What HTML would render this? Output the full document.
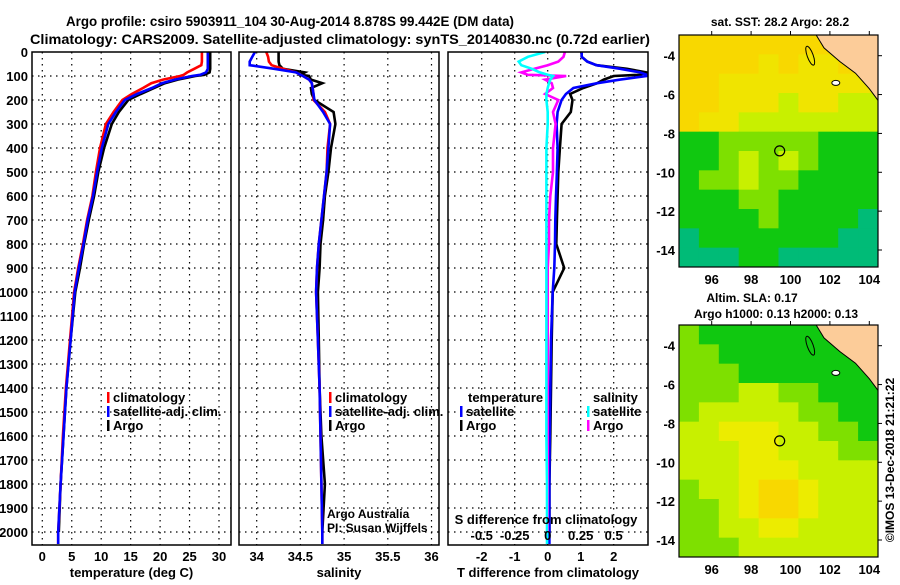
<!DOCTYPE html>
<html><head><meta charset="utf-8"><style>
body{margin:0;background:#fff;}
svg text{font-family:"Liberation Sans",Arial,sans-serif;font-weight:bold;fill:#000;}
</style></head><body>
<svg id="chart" width="900" height="580" viewBox="0 0 900 580" xmlns="http://www.w3.org/2000/svg">
<text x="290" y="26" font-size="14" text-anchor="middle" textLength="448" lengthAdjust="spacingAndGlyphs">Argo profile: csiro 5903911_104 30-Aug-2014 8.878S 99.442E (DM data)</text>
<text x="340" y="44" font-size="14" text-anchor="middle" textLength="620" lengthAdjust="spacingAndGlyphs">Climatology: CARS2009. Satellite-adjusted climatology: synTS_20140830.nc (0.72d earlier)</text>
<g id="plots"></g>
</svg>
<script>
const depths=[0,20,40,55,70,85,95,100,115,130,150,175,200,250,300,400,500,600,700,800,900,1000,1200,1400,1600,1800,2000,2050];
const tempClim=[27.1,27.1,27.1,27.0,25.8,24.6,24.0,23.4,20.5,18.5,17.1,15.2,13.6,12.1,10.8,9.8,9.1,8.5,7.6,6.9,6.1,5.4,4.7,4.0,3.5,3.1,2.7,2.7];
const tempSat=[28.1,28.1,28.1,28.1,28.1,27.8,26.8,25.4,22.5,20.3,18.6,16.1,14.0,12.5,11.2,10.1,9.3,8.6,7.7,7.0,6.2,5.5,4.8,4.1,3.6,3.1,2.7,2.7];
const tempArgo=[28.5,28.5,28.5,28.5,28.5,28.4,27.5,26.0,23.0,20.8,19.0,16.7,14.6,13.0,11.8,10.5,9.5,8.8,7.9,7.1,6.4,5.6,4.8,4.1,3.6,3.1,2.8,null];
const salClim=[34.11,34.13,34.14,34.17,34.3,34.45,34.5,34.53,34.6,34.63,34.64,34.65,34.65,34.78,34.84,34.81,34.8,34.77,34.74,34.71,34.69,34.68,34.7,34.72,34.73,34.74,34.75,34.75];
const salSat=[33.98,33.95,33.92,33.92,34.2,34.45,34.5,34.53,34.6,34.63,34.64,34.65,34.66,34.76,34.84,34.82,34.8,34.77,34.74,34.71,34.69,34.68,34.7,34.72,34.73,34.74,34.75,34.75];
const salArgo=[34.25,34.25,34.25,34.26,34.3,34.55,34.5,34.6,34.62,34.75,34.62,34.63,34.66,34.88,34.9,34.85,34.82,34.78,34.76,34.73,34.72,34.7,34.71,34.72,34.74,34.78,34.75,null];
const tdiffSat=[1.03,1.03,1.2,1.48,2.2,2.8,3.0,3.0,2.2,1.5,0.78,0.55,0.42,0.3,0.27,0.3,0.28,0.25,0.23,0.22,0.2,0.15,0.1,0.08,0.06,0.05,0.05,0.05];
const tdiffArgo=[1.03,1.03,1.2,1.48,2.4,3.0,2.8,2.0,1.7,1.5,1.08,0.68,0.75,0.7,0.42,0.37,0.32,0.3,0.28,0.26,0.5,0.15,0.12,0.1,0.08,0.05,0.05,null];
const sdiffSat=[-0.02,-0.15,-0.22,-0.2,-0.12,-0.06,0.0,0.04,0.02,0.01,0.0,-0.01,-0.01,0.0,0.0,-0.01,-0.01,-0.01,-0.01,-0.01,-0.01,-0.01,-0.01,-0.01,-0.01,-0.005,-0.005,-0.005];
const sdiffArgo=[0.13,0.12,0.08,0.0,-0.1,-0.2,-0.15,0.14,-0.02,0.03,0.04,-0.02,0.08,0.04,0.06,0.04,0.04,0.02,0.01,0.01,0.0,0.0,0.0,0.0,0.0,0.0,0.0,null];
const depthTicks=[0,100,200,300,400,500,600,700,800,900,1000,1100,1200,1300,1400,1500,1600,1700,1800,1900,2000];
const tempTicks=[0,5,10,15,20,25,30];
const salTicks=[34,34.5,35,35.5,36];
const salTickLabels=["34","34.5","35","35.5","36"];
const tdTicks=[-2,-1,0,1,2];
const sdTicks=[-0.5,-0.25,0,0.25,0.5];
const sdTickLabels=["-0.5","-0.25","0","0.25","0.5"];
const lonTicks=[96,98,100,102,104];
const latTicks=[-4,-6,-8,-10,-12,-14];
const sstGrid=[
[5,5,5,5,5,5,5,5,5,5],
[5,5,5,5,4,5,4,4,5,5],
[5,5,4,4,4,4,4,4,4,4],
[5,5,4,4,4,3,4,4,3,3],
[5,4,4,3,3,3,3,3,3,3],
[1,1,2,2,2,2,2,1,1,1],
[1,1,2,3,2,3,2,1,1,1],
[1,2,2,3,2,2,1,1,1,1],
[1,1,1,2,2,1,1,1,1,1],
[1,1,1,1,2,1,1,1,1,0],
[0,1,1,1,1,1,1,1,0,0],
[0,0,0,1,1,0,0,0,0,0]];
const slaGrid=[
[2,1,1,1,1,1,1,1,1,1],
[2,2,1,1,1,1,1,1,1,1],
[2,2,2,1,1,1,1,1,1,1],
[2,2,2,3,3,2,2,1,1,1],
[2,3,3,3,3,3,2,2,1,1],
[3,3,4,4,4,3,3,2,2,1],
[3,3,3,4,4,3,3,3,2,2],
[3,3,3,4,4,4,3,3,3,3],
[2,3,3,4,5,5,4,3,3,3],
[2,2,3,4,5,5,4,3,3,3],
[2,2,3,3,4,4,3,3,3,3],
[2,2,2,3,3,3,3,3,3,3]];
const sstPalette=["#00bb77","#10c810","#7ee000","#c8f000","#f0e400","#f8d800"];
const slaPalette=["#00b040","#10c810","#7ee000","#c8f000","#ecec00","#f8d800"];
const landLon=[101.3,101.7,102.5,103.3,104.0,104.44,104.44];
const landLat=[-2.93,-3.6,-4.3,-4.9,-5.7,-6.3,-2.93];
const floatLon=99.45, floatLat=-8.9;

const NS="http://www.w3.org/2000/svg";
const root=document.getElementById('plots');
function mk(tag,attrs,parent){const e=document.createElementNS(NS,tag);for(const k in attrs)e.setAttribute(k,attrs[k]);(parent||root).appendChild(e);return e;}
function txt(s,x,y,size,anchor,parent){const t=mk('text',{x:x,y:y,'font-size':size,'text-anchor':anchor||'middle'},parent);t.textContent=s;return t;}
const yD=d=>52+d*0.24;
const TOP=52,BOT=545;

function panel(name,x0,x1,xs,ticks,labels,xlabel,series){
  const g=mk('g',{});
  
  
  const cid='clip-'+name;
  const cp=mk('clipPath',{id:cid},g);mk('rect',{x:x0,y:TOP,width:x1-x0,height:BOT-TOP},cp);
  depthTicks.forEach(d=>{if(d>0){const l=mk('line',{x1:x0,x2:x1,y1:yD(d),y2:yD(d),stroke:'#000','stroke-width':1.2,'stroke-dasharray':'1.5 4.5'},g);
    }});
  ticks.forEach((v,i)=>{const x=xs(v);
    const l=mk('line',{x1:x,x2:x,y1:TOP,y2:BOT,stroke:'#000','stroke-width':1.2,'stroke-dasharray':'1.5 4.5'},g);
    
    if(labels){const t=txt(labels[i],x,561,13,'middle',g);}});
  series.forEach(s=>{let pts=[];
    s.v.forEach((v,i)=>{if(v!==null)pts.push(xs(v).toFixed(1)+','+yD(depths[i]).toFixed(1));});
    const p=mk('polyline',{points:pts.join(' '),fill:'none',stroke:s.c,'stroke-width':2.6,'clip-path':'url(#'+cid+')'},g);
    });
  const b=mk('rect',{x:x0,y:TOP,width:x1-x0,height:BOT-TOP,fill:'none',stroke:'#000','stroke-width':1.5},g);
  
  if(xlabel){const t=txt(xlabel,(x0+x1)/2,577,13,'middle',g);}
  return g;
}
const xT=v=>42.3+v*5.89;
const xS=v=>256.7+(v-34)*87.4;
const xTD=v=>547.7+v*33;
const xSD=v=>547.7+v*132;
panel('temperature-panel',32,231,xT,tempTicks,tempTicks.map(String),'temperature (deg C)',
 [{v:tempArgo,c:'#000',n:'temp-argo-line'},{v:tempClim,c:'#f00',n:'temp-clim-line'},{v:tempSat,c:'#00f',n:'temp-sat-line'}]);
panel('salinity-panel',239,439,xS,salTicks,salTickLabels,'salinity',
 [{v:salArgo,c:'#000',n:'sal-argo-line'},{v:salClim,c:'#f00',n:'sal-clim-line'},{v:salSat,c:'#00f',n:'sal-sat-line'}]);
const g3=panel('difference-panel',448,648,xTD,tdTicks,tdTicks.map(String),'T difference from climatology',
 [{v:tdiffArgo,c:'#000',n:'tdiff-argo-line'},{v:tdiffSat,c:'#00f',n:'tdiff-sat-line'},{v:sdiffArgo,c:'#f0f',n:'sdiff-argo-line',s:1},{v:sdiffSat,c:'#0ff',n:'sdiff-sat-line',s:1}].map(s=>s.s?{v:s.v.map(v=>v===null?null:v*4),c:s.c,n:s.n}:s));
sdTicks.forEach((v,i)=>{const t=txt(sdTickLabels[i],xSD(v),540,13,'middle',g3);});
{const t=txt('S difference from climatology',546,524,13,'middle',g3);}
// depth labels
depthTicks.forEach(d=>{const t=txt(String(d),28,yD(d)+5,13,'end');});
// legends
function legend(x,y,c,label,name){const g=mk('g',{});
  mk('rect',{x:x,y:y-10,width:2.5,height:11,fill:c},g);txt(label,x+6,y,13,'start',g);}
legend(107,402,'#f00','climatology','legend-climatology');
legend(107,416,'#00f','satellite-adj. clim.','legend-satellite-adj');
legend(107,430,'#000','Argo','legend-argo');
legend(329,402,'#f00','climatology','legend2-climatology');
legend(329,416,'#00f','satellite-adj. clim.','legend2-satellite-adj');
legend(329,430,'#000','Argo','legend2-argo');
{const t=txt('temperature',468,402,13,'start');}
legend(460,416,'#00f','satellite','legend-temp-satellite');
legend(460,430,'#000','Argo','legend-temp-argo');
{const t=txt('salinity',593,402,13,'start');}
legend(587,416,'#0ff','satellite','legend-sal-satellite');
legend(587,430,'#f0f','Argo','legend-sal-argo');
{const t=txt('Argo Australia',327,518,12,'start');t.setAttribute('font-weight','normal');
 const t2=txt('PI: Susan Wijffels',327,532,12,'start');t2.setAttribute('font-weight','normal');}

// maps
const ML=679,MR=878;
const lonX=l=>711.7+(l-96)*19.7;
const latY=(top,l)=>top+20.7+(-4-l)*19.43;
function map(name,top,grid,pal){
  const bot=top+232;
  const g=mk('g',{});
  const cid='clip-'+name;const cp=mk('clipPath',{id:cid},g);mk('rect',{x:ML,y:top,width:MR-ML,height:bot-top},cp);
  const cw=(MR-ML)/grid[0].length,ch=(bot-top)/grid.length;
  grid.forEach((row,r)=>row.forEach((v,c)=>{const cell=mk('rect',{x:ML+c*cw,y:top+r*ch,width:cw+0.5,height:ch+0.5,fill:pal[v]},g);
    }));
  const pts=landLon.map((l,i)=>lonX(l).toFixed(1)+','+latY(top,landLat[i]).toFixed(1)).join(' ');
  const land=mk('polygon',{points:pts,fill:'#fccc99',stroke:'#000','stroke-width':1,'clip-path':'url(#'+cid+')'},g);
  
  const isl=mk('ellipse',{cx:lonX(101.0),cy:latY(top,-4.0),rx:3,ry:10,fill:'none',stroke:'#000','stroke-width':1,transform:'rotate(-20 '+lonX(101.0)+' '+latY(top,-4.0)+')'},g);
  
  const isl2=mk('ellipse',{cx:lonX(102.3),cy:latY(top,-5.4),rx:4,ry:2.5,fill:'#fff',stroke:'#000','stroke-width':1},g);
  
  const fm=mk('circle',{cx:lonX(floatLon),cy:latY(top,floatLat),r:5,fill:'none',stroke:'#000','stroke-width':1.2},g);
  
  const fr=mk('rect',{x:ML,y:top,width:MR-ML,height:bot-top,fill:'none',stroke:'#000','stroke-width':1.2},g);
  
  lonTicks.forEach(l=>{const x=lonX(l);mk('line',{x1:x,x2:x,y1:top,y2:top-4,stroke:'#000'},g);
    const t=txt(String(l),x,bot+17,13,'middle',g);});
  latTicks.forEach(l=>{const y=latY(top,l);mk('line',{x1:MR,x2:MR+4,y1:y,y2:y,stroke:'#000'},g);
    const t=txt(String(l),675,y+5,13,'end',g);});
}
map('sst-map',35,sstGrid,sstPalette);
map('sla-map',325,slaGrid,slaPalette);
{const t=txt('sat. SST: 28.2 Argo: 28.2',780,26,12);
 const t2=txt('Altim. SLA: 0.17',752,302,12);
 const t3=txt('Argo h1000: 0.13 h2000: 0.13',776,318,12);
 const t4=txt('©IMOS 13-Dec-2018 21:21:22',0,0,12,'middle');t4.setAttribute('font-weight','normal');t4.setAttribute('transform','translate(894,460) rotate(-90)');
 }
</script>
</body></html>
